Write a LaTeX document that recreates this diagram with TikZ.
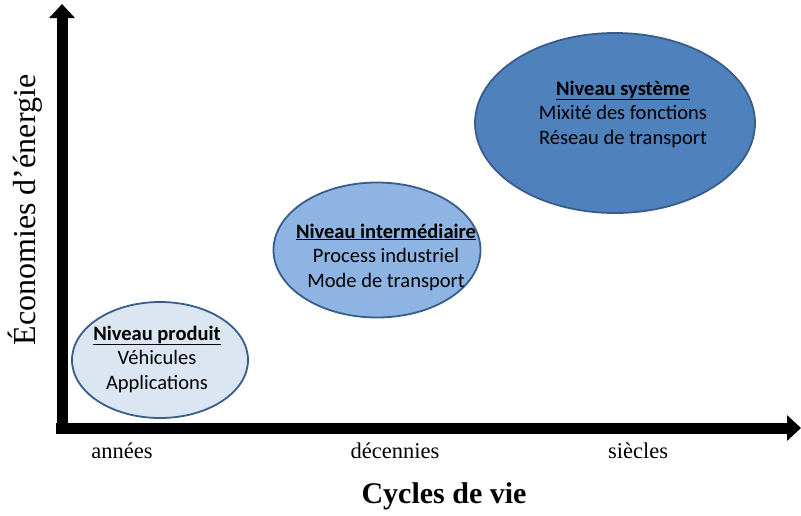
\documentclass[tikz,border=0pt]{standalone}
\usepackage{fontspec}
\setmainfont{Liberation Serif}
\newfontfamily\calibri{Carlito}
\usetikzlibrary{arrows.meta,shapes.geometric}
\definecolor{bordure}{HTML}{385D8A}
\definecolor{clair}{HTML}{DCE6F2}
\definecolor{moyen}{HTML}{8EB4E3}
\definecolor{fonce}{HTML}{4F81BD}

\begin{document}
\begin{tikzpicture}[x=1pt,y=-1pt,
    axe/.style={line width=11pt,-{Triangle[width=25pt,length=14pt]}},
    niveau/.style={ellipse,draw=bordure,line width=1.8pt,inner sep=0pt},
    bulle/.style={font=\calibri\fontsize{20.5}{24.5}\selectfont,align=center},
    graduation/.style={font=\fontsize{22.5}{26}\selectfont}]
    \useasboundingbox (0,0) rectangle (801,515);
    % axes
    \coordinate (origine) at (62,428);
    \coordinate (haut) at (62,4);
    \coordinate (droite) at (801,428);
    \draw[axe] (62,434)--(haut);
    \draw[axe] (56,428)--(droite);
    \node[font=\fontsize{32}{36}\selectfont,rotate=90] (ylabel) at (25,210) {Économies d'énergie};
    \node[font=\bfseries\fontsize{30}{34}\selectfont] (xlabel) at (444,496) {Cycles de vie};
    \node[graduation] (annees) at (122,451) {années};
    \node[graduation] (decennies) at (395,451) {décennies};
    \node[graduation] (siecles) at (638,451) {siècles};
    % niveaux
    \node[niveau,fill=clair,minimum width=176pt,minimum height=116pt] (produit) at (160,360) {};
    \node[niveau,fill=moyen,minimum width=207pt,minimum height=135pt] (intermediaire) at (377,250) {};
    \node[niveau,fill=fonce,minimum width=280pt,minimum height=180pt] (systeme) at (615,123) {};
    \node[bulle] (txtproduit) at (157,359) {\textbf{\underline{Niveau produit}}\\Véhicules\\Applications};
    \node[bulle] (txtintermediaire) at (386,257) {\textbf{\underline{Niveau intermédiaire}}\\Process industriel\\Mode de transport};
    \node[bulle] (txtsysteme) at (623,114) {\textbf{\underline{Niveau système}}\\Mixité des fonctions\\Réseau de transport};
\end{tikzpicture}
\end{document}
